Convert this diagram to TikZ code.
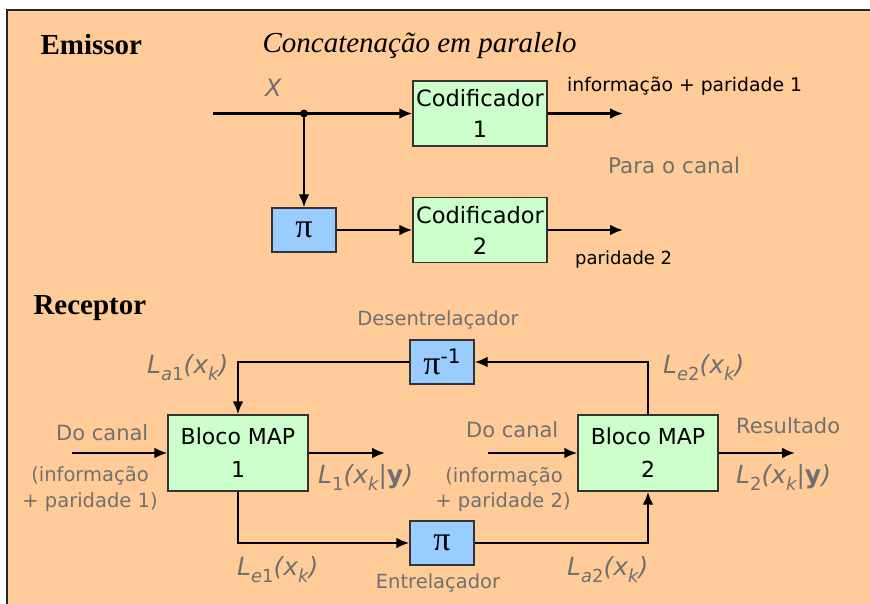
\documentclass[tikz,border=0pt]{standalone}
\usepackage{fontspec}
\usepackage{graphicx}
\setmainfont{DejaVu Sans}
\newfontfamily\timesf{Liberation Serif}
\usetikzlibrary{arrows.meta,positioning}
\definecolor{peach}{HTML}{FFCC99}
\definecolor{mint}{HTML}{CCFFCC}
\definecolor{sky}{HTML}{99CCFF}
\definecolor{txtgray}{HTML}{707070}
\newcommand{\fs}[2]{\fontsize{#1}{#2}\selectfont}
\newcommand{\lsub}[1]{\raisebox{-0.28em}{\scalebox{0.72}{#1}}}
\newcommand{\Lx}[1]{L\lsub{#1}(x\lsub{k})}
\newcommand{\piglyph}{{\timesf π}}

\begin{document}
\begin{tikzpicture}[x=1pt, y=-1pt,
    enc/.style={draw=black!80, line width=1.3pt, fill=mint, minimum width=134pt,
      minimum height=65pt, inner sep=0pt, align=center, font=\fs{22.5}{31}},
    map/.style={enc, minimum width=140pt, minimum height=76pt, font=\fs{22}{33}},
    perm/.style={draw=black!80, line width=1.3pt, fill=sky, minimum width=64pt,
      minimum height=44pt, inner sep=0pt, font=\fs{34}{36}},
    head/.style={anchor=base west, font=\timesf\bfseries\fs{29}{33}},
    lbl/.style={text=txtgray, font=\fs{19.5}{26}},
    sig/.style={anchor=base west, inner sep=0pt, text=txtgray, font=\itshape\fs{25}{30}},
    wire/.style={line width=2.6pt, -{Latex[length=13pt,width=11pt]}}]
    \useasboundingbox (0,0) rectangle (870,604);
    % frame
    \fill[peach] (7,10) rectangle (872,606);
    \draw[line width=2pt, black!85] (7,606) -- (7,10) -- (872,10);
    % emissor
    \node[head] (emi) at (37,55) {Emissor};
    \node[anchor=base west, font=\timesf\itshape\fs{29}{33}] (conc) at (259,53) {Concatenação em paralelo};
    \node[anchor=base west, inner sep=0pt, text=txtgray, font=\itshape\fs{24}{28}] (xlab) at (265,97) {X};
    \node[enc] (cod1) at (480,113.5) {Codificador\\1};
    \node[enc] (cod2) at (480,230) {Codificador\\2};
    \node[perm] (pe) at (304,230) {\piglyph};
    \coordinate (xin) at (213,113.5);
    \coordinate (fork) at (304,113.5);
    \coordinate (out1) at (623,113.5);
    \coordinate (out2) at (623,230);
    \draw[line width=2.6pt] (xin) -- (fork);
    \draw[wire] (fork) -- (cod1.west);
    \draw[wire] (fork) -- (pe.north);
    \fill (fork) circle (4pt);
    \draw[wire] (pe) -- (cod2);
    \draw[wire] (cod1) -- (out1);
    \draw[wire] (cod2) -- (out2);
    \node[anchor=base west, inner sep=0pt, font=\fs{18.8}{22}] (info1) at (567,92) {informação + paridade 1};
    \node[anchor=base west, inner sep=0pt, text=txtgray, font=\fs{21.5}{26}] (canal) at (608,174) {Para o canal};
    \node[anchor=base west, inner sep=0pt, font=\fs{18}{22}] (par2) at (575,264) {paridade 2};
    % receptor
    \node[head] (rec) at (30,314) {Receptor};
    \node[map] (map1) at (238,453) {Bloco MAP\\1};
    \node[map] (map2) at (648,453) {Bloco MAP\\2};
    \node[perm] (deint) at (442,362) {\piglyph\raisebox{0.32em}{\fs{20}{22}-1}};
    \node[perm] (inter) at (442,543) {\piglyph};
    \node[lbl, anchor=base, inner sep=0pt] (desl) at (438,325) {Desentrelaçador};
    \node[lbl, anchor=base, inner sep=0pt] (entl) at (438,588) {Entrelaçador};
    \draw[wire] (map2.north) |- (deint.east);
    \draw[wire] (deint.west) -| (map1.north);
    \draw[wire] (map1.south) |- (inter.west);
    \draw[wire] (inter.east) -| (map2.south);
    \coordinate (in1) at (72,453);
    \coordinate (in2) at (488,453);
    \coordinate (res1) at (385,453);
    \coordinate (res2) at (795,453);
    \draw[wire] (in1) -- (map1);
    \draw[wire] (in2) -- (map2);
    \draw[wire] (map1) -- (res1);
    \draw[wire] (map2) -- (res2);
    \node[lbl, anchor=base west, inner sep=0pt, font=\fs{21}{26}] (can1) at (56,440) {Do canal};
    \node[lbl, anchor=base west, inner sep=0pt, font=\fs{21}{26}] (can2) at (466,437) {Do canal};
    \node[lbl, anchor=base, inner sep=0pt] (inf1) at (90,481) {(informação};
    \node[lbl, anchor=base, inner sep=0pt] (par1b) at (90,507) {+ paridade 1)};
    \node[lbl, anchor=base, inner sep=0pt] (inf2) at (504,482) {(informação};
    \node[lbl, anchor=base, inner sep=0pt] (par2b) at (503,507) {+ paridade 2)};
    \node[lbl, anchor=base west, inner sep=0pt, font=\fs{21}{26}] (resl) at (736,433) {Resultado};
    % signals
    \node[sig] (la1) at (147,373) {\Lx{a{\upshape 1}}};
    \node[sig] (le2) at (663,373) {\Lx{e{\upshape 2}}};
    \node[sig] (le1) at (237,575) {\Lx{e{\upshape 1}}};
    \node[sig] (la2) at (567,575) {\Lx{a{\upshape 2}}};
    \node[sig] (l1) at (318,483) {L\lsub{\upshape 1}(x\lsub{k}{\upshape |}{\upshape\bfseries y})};
    \node[sig] (l2) at (736,483) {L\lsub{\upshape 2}(x\lsub{k}{\upshape |}{\upshape\bfseries y})};
\end{tikzpicture}
\end{document}
